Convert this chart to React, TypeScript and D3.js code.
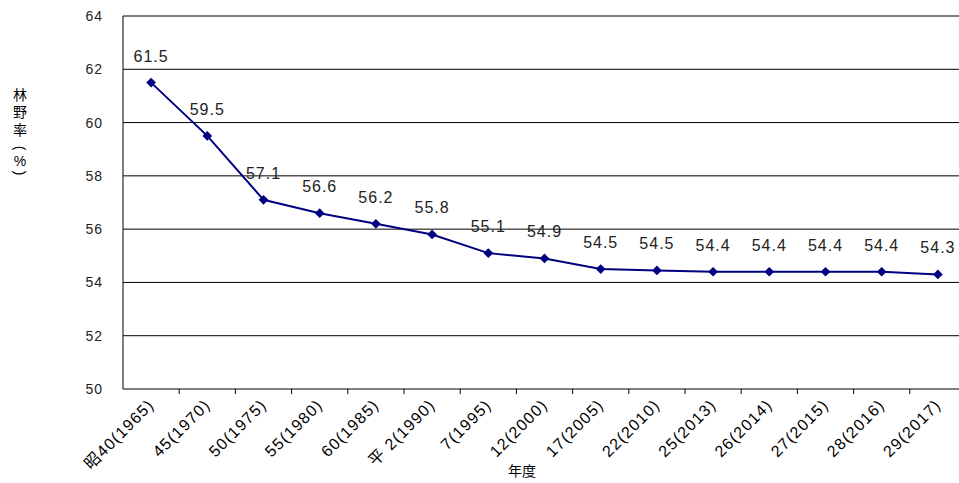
import React from "react";
import * as d3 from "d3";

const categories = [
  "昭40(1965)", "45(1970)", "50(1975)", "55(1980)", "60(1985)", "平 2(1990)", "7(1995)",
  "12(2000)", "17(2005)", "22(2010)", "25(2013)", "26(2014)", "27(2015)", "28(2016)", "29(2017)",
];
const values = [61.5, 59.5, 57.1, 56.6, 56.2, 55.8, 55.1, 54.9, 54.5, 54.45, 54.4, 54.4, 54.4, 54.4, 54.3];
const labels = ["61.5", "59.5", "57.1", "56.6", "56.2", "55.8", "55.1", "54.9", "54.5", "54.5", "54.4", "54.4", "54.4", "54.4", "54.3"];
const yTicks = [50, 52, 54, 56, 58, 60, 62, 64];
const yTitleChars = ["林", "野", "率", "(", "%", ")"];
const yTitleRot = [false, false, false, true, false, true];
const yTitleY = [95, 112, 130, 148, 161, 173];

const W = 959, H = 483;
const left = 123, top = 16, bottom = 389;
const bandW = 56.2;
const right = left + bandW * categories.length;

export default function App() {
  const x = d3.scaleBand<string>().domain(categories).range([left, right]).padding(0);
  const y = d3.scaleLinear().domain([50, 64]).range([bottom, top]);
  const cx = (c: string) => (x(c) as number) + x.bandwidth() / 2;
  const line = d3.line<number>().x((_, i) => cx(categories[i])).y((v) => y(v));
  const fontNum = "'Liberation Sans', Arial, sans-serif";
  const fontJP = "'Noto Sans CJK JP', sans-serif";
  const fontMix = "'Liberation Sans', 'Noto Sans CJK JP', sans-serif";
  const diamond = d3.symbol().type(d3.symbolDiamond2 ?? d3.symbolDiamond).size(60)();
  return (
    <svg width={W} height={H} style={{ position: "absolute", left: 0, top: 0, background: "#fff" }}>
      {yTicks.filter((t) => t > 50).map((t) => (
        <line key={t} x1={left} x2={W} y1={y(t)} y2={y(t)} stroke="#000" strokeWidth={1} />
      ))}
      <line x1={left} x2={W} y1={bottom} y2={bottom} stroke="#000" strokeWidth={1.2} />
      <line x1={left} x2={left} y1={top} y2={bottom} stroke="#000" strokeWidth={1} />
      {categories.slice(1).map((c) => (
        <line key={c} x1={x(c) as number} x2={x(c) as number} y1={bottom} y2={bottom + 5} stroke="#000" />
      ))}
      {yTicks.map((t) => (
        <text key={t} x={103} y={y(t) + 5} textAnchor="end" fontFamily={fontNum} fontSize={14} fill="#222" letterSpacing={1}>
          {t}
        </text>
      ))}
      {categories.map((c) => (
        <text
          key={c}
          transform={`translate(${cx(c) + 4},${bottom + 17}) rotate(-45)`}
          textAnchor="end"
          fontFamily={fontMix}
          fontSize={16}
          letterSpacing={1.2}
          fill="#000"
        >
          {c}
        </text>
      ))}
      <text x={522} y={476} textAnchor="middle" fontFamily={fontJP} fontSize={14}>年度</text>
      {yTitleChars.map((ch, i) => (
        <text
          key={i}
          transform={`translate(20,${yTitleY[i]})${yTitleRot[i] ? " rotate(90)" : ""}`}
          textAnchor="middle"
          dominantBaseline="central"
          fontFamily={fontMix}
          fontSize={14}
        >
          {ch}
        </text>
      ))}
      <path d={line(values) as string} fill="none" stroke="#000080" strokeWidth={2} />
      {values.map((v, i) => (
        <path key={i} d={diamond as string} transform={`translate(${cx(categories[i])},${y(v)})`} fill="#000080" />
      ))}
      {values.map((v, i) => (
        <text
          key={"l" + i}
          x={cx(categories[i])}
          y={y(v) - 21}
          textAnchor="middle"
          fontFamily={fontNum}
          fontSize={16}
          letterSpacing={1}
          fill="#222"
        >
          {labels[i]}
        </text>
      ))}
    </svg>
  );
}
